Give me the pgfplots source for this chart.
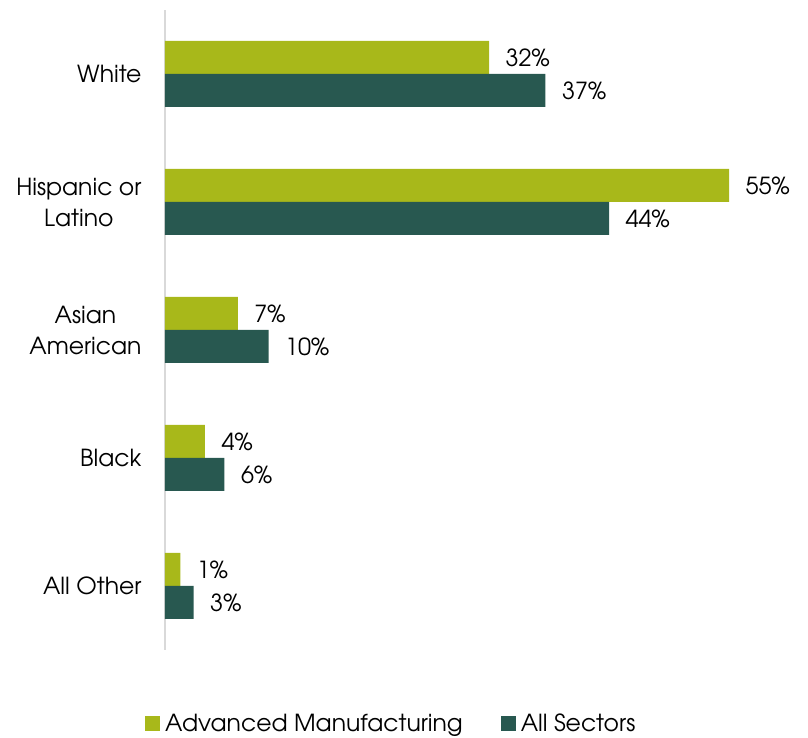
\documentclass[border=0pt]{standalone}
\usepackage{fontspec}
\setmainfont{TeX Gyre Adventor}
\usepackage{pgfplots}
\pgfplotsset{compat=1.18}

\definecolor{mfg}{RGB}{168,184,26}
\definecolor{allsec}{RGB}{40,88,80}
\definecolor{axgray}{RGB}{217,217,217}

\begin{document}
\begin{tikzpicture}
\begin{axis}[
    at={(0,0)}, anchor=south west,
    scale only axis,
    width=643pt, height=640pt,
    xbar,
    bar width=33pt,
    xmin=0, xmax=62.7,
    ymin=-0.5, ymax=4.5,
    axis x line=none,
    axis y line*=left,
    y axis line style={axgray, line width=1.5pt},
    ytick={0,1,2,3,4},
    yticklabels={All Other, Black, Asian\\American, Hispanic or\\Latino, White},
    yticklabel style={align=center, font=\fontsize{23.5}{31}\selectfont, xshift=-20pt},
    major tick length=0pt,
    clip=false,
    point meta=explicit symbolic,
    nodes near coords,
    nodes near coords style={anchor=west, font=\fontsize{23.5}{28}\selectfont, xshift=13pt, black},
    legend columns=2,
    legend style={at={(0.352,-0.115)}, anchor=center, draw=none,
        font=\fontsize{23.5}{28}\selectfont,
        /tikz/every odd column/.append style={column sep=3pt},
        /tikz/every even column/.append style={column sep=36pt}},
    legend image code/.code={\fill[#1] (0pt,-7.5pt) rectangle (15pt,7.5pt);},
]
\addplot[fill=mfg, draw=none, bar shift=16.5pt] coordinates {
    (1.5,0) [1\%]
    (3.9,1) [4\%]
    (7.1,2) [7\%]
    (55.0,3) [55\%]
    (31.6,4) [32\%]
};
\addlegendentry{Advanced Manufacturing}
\addplot[fill=allsec, draw=none, bar shift=-16.5pt] coordinates {
    (2.8,0) [3\%]
    (5.8,1) [6\%]
    (10.1,2) [10\%]
    (43.3,3) [44\%]
    (37.1,4) [37\%]
};
\addlegendentry{All Sectors}
\end{axis}
\useasboundingbox (-165pt,-88pt) rectangle (643pt,650pt);
\end{tikzpicture}
\end{document}
